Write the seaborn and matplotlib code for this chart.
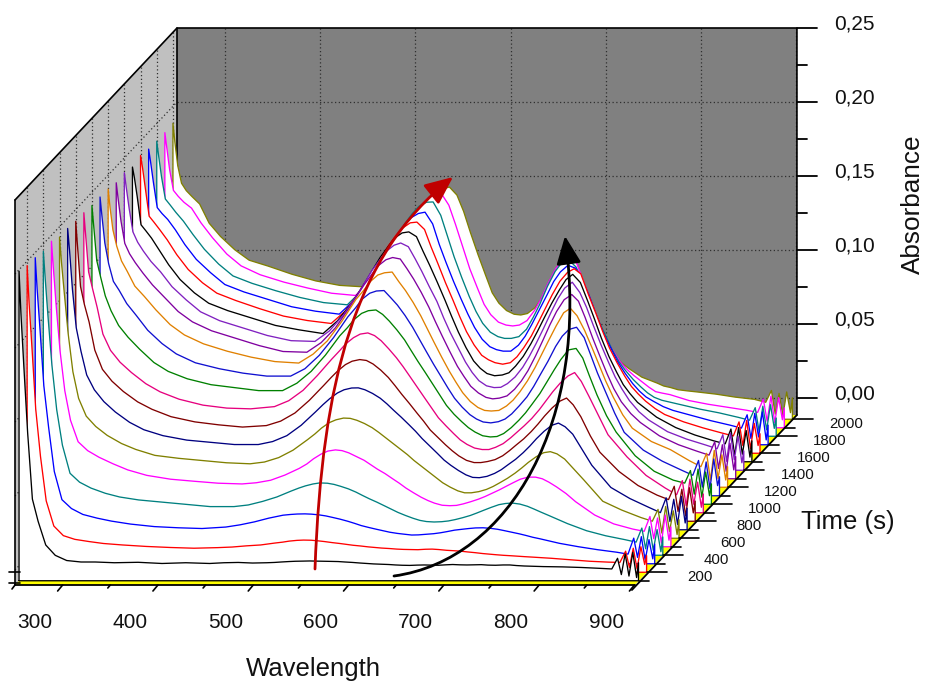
import numpy as np
import matplotlib
matplotlib.use('Agg')
import matplotlib.pyplot as plt
import seaborn as sns
from matplotlib.patches import FancyArrowPatch
from matplotlib.path import Path

# wavelength grid (nm), denser at the UV edge, over the two bands and in the noisy end
wavelengths = [250, 252, 255, 259, 264, 270, 278, 288, 300, 315,
               330, 350, 375, 400, 425, 450, 465, 480, 495, 510,
               518, 525, 533, 540, 548, 555, 562, 570, 578, 585,
               592, 600, 608, 615, 622, 630, 638, 645, 652, 660,
               668, 675, 682, 690, 698, 705, 712, 720, 728, 735,
               742, 750, 758, 765, 772, 780, 790, 800, 820, 840,
               860, 872, 878, 882, 886, 890, 894, 898, 900]

times = [100, 200, 300, 400, 500, 600, 700, 800, 900, 1000,
         1100, 1200, 1300, 1400, 1500, 1600, 1700, 1800, 1900, 2000]

# absorbance x 1000, one row per time
s100 = [199, 170, 135, 90, 45, 30, 14, 7, 3.5, 2.5, 2.5, 2, 2.3, 1.5, 2, 1.5, 2, 2.2, 1.8, 2,
        2.2, 2.5, 2.8, 3, 3.1, 3.2, 3.1, 3, 2.9, 2.8, 2.5, 2.2, 1.8, 1.5, 1.2, 1, 0.8, 0.5, 0.3, 0.2,
        0.4, 0.5, 0.4, 0.3, 0.6, 0.8, 0.6, 0.5, 0.6, 0.7, 0.4, 0.3, 0.5, 0.5, 0.1, -0.2, -0.4, -0.6, -0.8, -1.2,
        -1.8, -2.2, 5, -6, 8, -7, 9, -8, 2]
s200 = [197, 172, 142, 100, 68, 38, 21, 14.5, 12, 10.5, 9.2, 8.2, 7.2, 6.5, 6, 6.4, 6.8, 7.6, 8.2, 9.5,
        10.1, 10.8, 11.3, 11.5, 11.4, 11, 10.5, 9.8, 9.2, 8.6, 8, 7.5, 6.9, 6.5, 6.1, 5.8, 5.4, 5.2, 5.1, 5,
        5.3, 5.4, 5.1, 4.6, 4.3, 4, 3.5, 3, 2.4, 2, 1.6, 1.2, 0.9, 0.6, 0.3, 0, -0.4, -0.8, -1.8, -2.8,
        -3.4, -3.6, 4, -7, 6, -8, 7, -5, 1]
s300 = [196.5, 175, 148, 110, 82, 52, 33, 27, 23, 20.5, 18.5, 16.5, 14.8, 14, 13.5, 14.5, 16, 18, 20.5, 22.5,
        23, 23.3, 23.4, 23.2, 22.7, 22, 21, 19.8, 18.4, 17, 15.5, 14.2, 13, 12, 11, 10.2, 9.6, 9.1, 9.2, 9.6,
        10, 10.6, 11.4, 12.4, 13, 13.5, 13.9, 14, 13.6, 13, 12.1, 11, 9.9, 8.8, 7.6, 6.5, 5, 3.5, 1.2, -0.8,
        -2.5, -3.8, 7, -6, 8, -8, 6, -7, 3]
s400 = [195, 176, 150, 118, 88, 64, 45, 39, 35, 31.5, 29, 27, 25.5, 24, 22.5, 22.5, 23.6, 26, 29, 33,
        35, 36.5, 37.8, 38.5, 38.3, 37.5, 36.2, 34.5, 32.3, 30, 27.8, 25.5, 23, 20.8, 18.6, 16.5, 14.6, 13.2, 12.4, 12.1,
        12.3, 12.8, 13.7, 15, 16.5, 18.2, 20, 22, 23.8, 24.6, 24.9, 24.2, 22.7, 20.8, 18.8, 16.6, 13.8, 11, 6.2, 2.8,
        0.2, -1.5, 8, -6, 9, -7, 7, -8, 2]
s500 = [196, 178, 152, 122, 95, 75, 60.5, 54.5, 50, 45.5, 41.5, 37.8, 35.2, 33.8, 32.5, 32, 32.8, 34.5, 38, 42.5,
        45.5, 49, 52.2, 54.2, 55, 54.5, 53, 50.5, 48, 45, 42, 39, 35.5, 32.5, 29.2, 26, 23, 20.8, 19, 17.6,
        17.3, 17.5, 18.5, 20, 21.7, 23.5, 25.6, 28, 30.7, 33, 35.2, 36.6, 36.6, 35.5, 33.2, 30, 25.5, 20, 11, 5,
        1.5, 0, 10, -5, 9, -8, 11, -6, 3]
s600 = [193, 176, 155, 128, 102, 84, 72, 65, 59, 53.5, 49.5, 45.5, 43.5, 42, 40.5, 39.8, 41, 44, 49, 56,
        60, 64, 67.6, 69.5, 70.7, 70.5, 69.2, 67, 64.2, 61, 57.5, 53.5, 49.5, 46, 42, 38, 34, 30.5, 27, 24,
        21.5, 20.2, 20.2, 21, 22.5, 24.5, 27, 30, 33.5, 37, 40.8, 44.5, 47.3, 48, 46.5, 43, 36, 29, 14.5, 8.5,
        3.5, 1, 9, -7, 11, -6, 8, -8, 2]
s700 = [193, 178, 152, 126, 110, 94, 84, 76, 69, 62, 57, 53, 50, 48.5, 47, 47, 49, 53, 60, 69,
        74, 78, 81.8, 84, 85.2, 85.3, 84, 81.5, 78.3, 74.5, 70.2, 65.5, 60.5, 56, 51, 46, 41, 36.5, 33, 29.5,
        26.5, 24.8, 24.6, 25.5, 27.5, 30, 33.3, 37, 41.5, 46, 51, 56, 60, 61.5, 59, 54, 43.5, 33, 18, 10.5,
        4.5, 1, 11, -5, 10, -7, 12, -6, 4]
s800 = [192, 174, 148, 136, 124, 105, 92, 84, 77, 70, 65, 60, 56.5, 54.5, 53, 54, 57, 62.5, 71, 81,
        86.5, 91, 95.2, 97.5, 98.6, 98, 95.6, 91.5, 86.5, 81, 75.2, 69, 62.5, 57, 51, 46, 41, 37, 33.5, 30.5,
        29, 29, 29.7, 31, 33.6, 37, 40.8, 45, 50, 55, 60.5, 66, 70.5, 72.6, 68, 60, 47, 36, 23, 13.5,
        7, 4, 13, -4, 11, -7, 12, -5, 3]
s900 = [192, 176, 152, 141, 128, 110, 99, 91, 84, 76.5, 71, 66, 62, 60, 59.5, 61, 65, 72, 82, 93,
        98.5, 103.5, 107.6, 110, 110.8, 109, 105.5, 100, 94, 88, 81.5, 74, 66.5, 60, 53.5, 48, 42.8, 38.5, 35.5, 33,
        32, 32, 33.5, 36, 40, 44, 48, 53, 59, 65, 71, 77, 81.7, 84, 78, 68, 55, 42, 27, 14.5,
        6, 1.5, 11, -6, 12, -5, 10, -7, 2]
s1000 = [191, 176, 154, 143, 130, 120, 110, 102, 94, 85, 79, 74, 70, 68, 66, 66, 71, 79, 90, 103,
         108.5, 114, 118.2, 120, 120.5, 117.5, 113, 107, 100.3, 93, 85.8, 78, 70, 63, 56, 50, 45, 41, 38, 35.5,
         34.7, 35, 37, 41, 46, 51, 57, 64, 72.5, 80, 87, 93.5, 94.5, 88, 76, 63, 49, 38, 22, 11.5,
         5.5, 3.5, 12, -4, 13, -6, 11, -5, 3]
s1100 = [191, 178, 160, 146, 134, 128, 119, 111, 101, 92, 85, 79, 75, 72, 70, 70, 75, 84, 96, 110,
         116, 122, 126, 127.5, 127.8, 123, 118, 111, 103, 95, 87, 78, 69.5, 62, 55, 49, 44, 41, 39, 38.4,
         39.2, 41, 44.5, 50, 56, 63, 71, 80, 90, 97, 101.5, 103, 96, 84, 72, 60, 45, 32, 20, 12.5,
         6.5, 3, 13, -5, 12, -6, 14, -4, 2]
s1200 = [190.5, 178, 163, 152, 142, 135, 125, 118, 109, 99, 92, 86, 81, 77, 74, 73, 79, 88, 101, 116,
         122, 128, 132.5, 134, 134.5, 128, 122, 114, 105, 96, 87, 77, 67.5, 60, 53, 47, 43, 41, 40.6, 41,
         44, 48, 53.5, 61, 70, 79, 88, 98, 107, 110, 105, 95, 83, 72, 61, 50, 38, 29, 20, 14.5,
         7, 3, 12, -6, 14, -5, 11, -6, 3]
s1300 = [189, 178, 163, 148, 141, 135, 128, 120, 112, 102, 95, 89, 84, 79, 75, 74.5, 81, 91, 105, 120,
         127, 133, 137, 138.5, 137.5, 131, 124, 115, 105, 95, 85.5, 75, 65, 58, 51.5, 47, 44, 43, 43.5, 45,
         49.5, 55, 62, 72, 83, 93, 102, 110, 113.5, 109, 98, 84, 71, 60, 50, 41, 33, 27, 18, 12,
         7.5, 5, 14, -4, 12, -6, 13, -5, 4]
s1400 = [190, 180, 166, 150, 143, 137, 130, 123, 113, 104, 96, 90, 85, 80, 76.5, 76, 83, 94, 108, 124,
         131, 137, 141, 142.5, 140, 132, 123.5, 113, 103, 92, 82, 72, 62, 55, 49.5, 46, 44.8, 45, 47.5, 52,
         58.5, 66, 74.5, 85, 96, 105, 112, 116, 109, 99, 87, 74, 62, 52, 44, 36, 28.5, 23, 15, 10,
         6, 3.5, 13, -5, 14, -4, 12, -6, 2]
s1500 = [188, 181, 168, 149, 145, 140, 132, 122, 112, 103, 96, 91, 86, 81, 78, 75.5, 84, 96, 111, 127,
         134, 140, 143.5, 144.2, 141, 131, 121.5, 110, 98, 87, 76.5, 66, 57, 52, 48.5, 47, 47.5, 49, 53.5, 60,
         68.5, 77, 86, 96, 105, 112, 115.5, 110, 97, 85, 72.5, 60, 49.5, 41, 35, 29, 24, 19, 12, 7,
         3, 1, 11, -7, 12, -6, 10, -8, 3]
s1600 = [190, 182, 168, 149, 145, 140, 133, 123, 113, 104, 97, 92, 86.5, 81.5, 78.5, 76.5, 85, 98, 113, 129,
         136, 141, 144.5, 145, 140, 128, 117, 104, 92, 81, 71, 62, 55, 52, 50, 49, 50, 54, 60, 68,
         78, 87, 96, 105, 111, 113.5, 110, 96, 83, 71, 60, 50, 41, 34, 29, 24, 19, 15, 10, 6,
         2.5, 0.5, 10, -6, 11, -8, 9, -6, 2]
s1700 = [188.5, 180, 166, 149, 145, 141, 134, 124, 114, 105, 97, 92, 87, 82, 79, 77, 86, 98, 113, 130,
         137, 142, 145, 145.9, 138, 124, 112, 99, 87, 77, 68, 60, 55, 53, 52, 52, 56, 62, 70, 80,
         90, 99, 105.5, 110, 108, 100, 90, 76, 63, 54, 45, 37, 30, 25, 21, 18, 14.5, 12, 8.5, 5,
         2, 0, 9, -7, 10, -6, 11, -8, 2]
s1800 = [188, 178, 164, 149, 145, 140, 134, 125, 115, 105, 97, 92, 87, 82.5, 79, 77.5, 87, 99, 114, 132,
         139, 144, 146.8, 147, 138, 124, 110, 96, 83, 73, 65, 59, 56, 54.8, 54.8, 56, 61, 69, 78, 90,
         100, 106, 108, 103, 92, 80, 69, 58, 47, 39, 33, 27, 22, 18, 15, 13, 11.5, 10, 7, 4.5,
         1.5, -0.5, 8, -8, 9, -7, 10, -6, 1]
s1900 = [188, 178, 163, 149, 145, 141, 137, 127, 117, 106, 98, 92, 87, 83, 79.5, 78, 87, 99, 113, 130,
         138, 143, 146.5, 147, 139, 126, 112, 96, 83, 72, 65, 60, 58, 57.4, 58, 61, 68, 76, 86, 96,
         103, 105, 100, 86, 72, 60, 50, 41, 33, 28, 24, 20, 16, 13, 12, 11, 9, 7, 4.5, 2.5,
         0.5, -1, 8, -7, 10, -8, 9, -6, 2]
s2000 = [188.5, 176, 160, 148, 143, 139, 134, 121, 112, 103, 96, 92, 86.5, 82, 79, 78, 87, 98, 111, 127,
         134, 139, 144, 145.5, 140, 129, 115, 100, 86, 74, 67, 62, 59.5, 59, 60, 64, 71, 80, 90, 100.5,
         98, 87, 76, 63.5, 50, 40, 33, 27, 23, 20, 17, 15, 13, 11, 10, 8.5, 7.7, 7, 5.5, 3.5,
         2, 0, 8, -8, 6, -9, 7, -7, 3]

spectra = [s100, s200, s300, s400, s500, s600, s700, s800, s900, s1000,
           s1100, s1200, s1300, s1400, s1500, s1600, s1700, s1800, s1900, s2000]

line_colors = ['#000000', '#FF0000', '#0000FF', '#008080', '#FF00FF', '#808000', '#000080',
               '#800000', '#E6007E', '#008000', '#1010D0', '#E08000', '#8000A0', '#8020C0',
               '#000000', '#FF0000', '#0000FF', '#008080', '#FF00FF', '#808000']

abs_major = [0.00, 0.05, 0.10, 0.15, 0.20, 0.25]
abs_labels = ['0,00', '0,05', '0,10', '0,15', '0,20', '0,25']
abs_minor = [0.025, 0.075, 0.125, 0.175, 0.225]
wl_major = [300, 400, 500, 600, 700, 800, 900]
wl_minor = [350, 450, 550, 650, 750, 850]
time_major = [200, 400, 600, 800, 1000, 1200, 1400, 1600, 1800, 2000]
time_minor = [100, 300, 500, 700, 900, 1100, 1300, 1500, 1700, 1900]


# oblique projection used by the 3D plot, result is in figure pixels
def depth(t):
    return (np.asarray(t, dtype=float) - 50) / 2000


def px(wl, t):
    return 15 + 0.953 * (np.asarray(wl, dtype=float) - 250) + 162 * depth(t)


def py(a, t):
    return 570 - 172 * depth(t) - 1480 * np.asarray(a, dtype=float)


def floor_y(t):
    return 585 - 170 * depth(t)


sns.set_theme(style='white')
plt.rcParams['font.family'] = ['Liberation Sans', 'DejaVu Sans']

fig = plt.figure(figsize=(9.25, 6.81), dpi=100)
ax = fig.add_axes([0, 0, 1, 1])
ax.set_xlim(0, 925)
ax.set_ylim(681, 0)
ax.axis('off')

T0, T1 = 50, 2050
WL0, WL1 = 250, 900.5
TOP = 0.25

# walls and floor
ax.fill([px(WL0, T1), px(WL1, T1), px(WL1, T1), px(WL0, T1)],
        [py(TOP, T1), py(TOP, T1), floor_y(T1), floor_y(T1)], color='#808080', lw=0, zorder=1)
ax.fill([px(WL0, T0), px(WL0, T1), px(WL0, T1), px(WL0, T0)],
        [py(TOP, T0), py(TOP, T1), floor_y(T1), floor_y(T0)], color='#C0C0C0', lw=0, zorder=1)
ax.fill([px(WL0, T0), px(WL1, T0), px(WL1, T1), px(WL0, T1)],
        [floor_y(T0), floor_y(T0), floor_y(T1), floor_y(T1)], color='#FFFF00', lw=0, zorder=1)

# dotted grid on the walls
grid = dict(color='#303030', lw=0.9, ls=(0, (1, 2)), zorder=2)
for wl in wl_major:
    ax.plot([px(wl, T1), px(wl, T1)], [py(TOP, T1), floor_y(T1)], **grid)
for a in abs_major[:-1]:
    ax.plot([px(WL0, T1), px(WL1, T1)], [py(a, T1), py(a, T1)], **grid)
    ax.plot([px(WL0, T0), px(WL0, T1)], [py(a, T0), py(a, T1)], **grid)
for t in time_major:
    ax.plot([px(WL0, t), px(WL0, t)], [py(TOP, t), floor_y(t)], **grid)

# frame
edge = dict(color='black', lw=1.2, zorder=3)
ax.plot([px(WL0, T0), px(WL0, T1), px(WL1, T1), px(WL1, T1)],
        [py(TOP, T0), py(TOP, T1), py(TOP, T1), floor_y(T1)], **edge)
ax.plot([px(WL0, T1), px(WL0, T1)], [py(TOP, T1), floor_y(T1)], **edge)
ax.plot([px(WL0, T0), px(WL0, T0)], [py(TOP, T0), floor_y(T0)], **edge)

# spectra, back to front, each one a white curtain down to the floor
wl_arr = np.array(wavelengths, dtype=float)
for k in range(len(times) - 1, -1, -1):
    t = times[k]
    xs = px(wl_arr, t)
    ys = py(np.array(spectra[k]) / 1000, t)
    fy = floor_y(t)
    xp = np.concatenate([[xs[0]], xs, [xs[-1], xs[0]]])
    yp = np.concatenate([[fy], ys, [fy, fy]])
    z = 10 + (len(times) - k)
    ax.fill(xp, yp, color='white', lw=0, zorder=z)
    sns.lineplot(x=xp, y=yp, sort=False, estimator=None, color=line_colors[k], lw=0.95,
                 zorder=z + 0.5, legend=False, ax=ax)

# front edges of the floor
edge2 = dict(color='black', lw=1.3, zorder=40)
ax.plot([px(WL0, T0), px(WL1, T0)], [floor_y(T0), floor_y(T0)], **edge2)
ax.plot([px(WL1, T0) - 3, px(WL1, T1)], [floor_y(T0) + 5, floor_y(T1)], **edge2)

# absorbance ticks on the back wall
for a, lab in zip(abs_major, abs_labels):
    ax.plot([797, 817], [py(a, T1), py(a, T1)], color='black', lw=1.3, zorder=3)
    ax.text(834, py(a, T1) - 4, lab, fontsize=15, color='#111111', ha='left', va='center')
for a in abs_minor:
    ax.plot([797, 807], [py(a, T1), py(a, T1)], color='black', lw=1.3, zorder=3)

# front left stub ticks
ax.plot([9, 20], [571.5, 571.5], color='black', lw=1.2, zorder=41)
ax.plot([9, 20], [583, 583], color='black', lw=1.2, zorder=41)

# wavelength ticks and labels
for wl in wl_major:
    x = px(wl, T0)
    ax.plot([x, x - 5], [585, 591], color='black', lw=1.2, zorder=41)
    ax.text(x - 28, 622, str(wl), fontsize=15, color='#111111', ha='center', va='center')
for wl in wl_minor:
    x = px(wl, T0)
    ax.plot([x, x - 2.5], [585, 588], color='black', lw=1.2, zorder=41)
ax.plot([15, 12], [585, 589], color='black', lw=1.2, zorder=41)

# time ticks and labels
for t in time_major:
    x, y = px(WL1, t), floor_y(t)
    ax.plot([x, x + 20], [y, y], color='black', lw=1.2, zorder=41)
    ax.text(x + 53, y + 5, str(t), fontsize=10.8, color='#111111', ha='center', va='center')
for t in time_minor:
    x, y = px(WL1, t), floor_y(t)
    ax.plot([x, x + 10], [y, y], color='black', lw=1.2, zorder=41)

ax.text(848, 522, 'Time (s)', fontsize=18.5, color='#111111', ha='center', va='center')
ax.text(313, 669, 'Wavelength', fontsize=18.5, color='#111111', ha='center', va='center')
ax.text(913, 204, 'Absorbance', fontsize=18.8, color='#111111', rotation=90, ha='center', va='center')

# the two guide arrows
red_path = Path([(315, 569), (322, 380), (355, 255), (453, 177)],
                [Path.MOVETO, Path.CURVE4, Path.CURVE4, Path.CURVE4])
black_path = Path([(394, 576), (510, 560), (590, 420), (565, 236)],
                  [Path.MOVETO, Path.CURVE4, Path.CURVE4, Path.CURVE4])
ax.add_patch(FancyArrowPatch(path=red_path, arrowstyle='-|>,head_length=0.95,head_width=0.42',
                             mutation_scale=18, color='#C00000', lw=2.0, zorder=50))
ax.add_patch(FancyArrowPatch(path=black_path, arrowstyle='-|>,head_length=0.95,head_width=0.42',
                             mutation_scale=18, color='black', lw=2.0, zorder=50))

fig.savefig('out.png', dpi=100)
